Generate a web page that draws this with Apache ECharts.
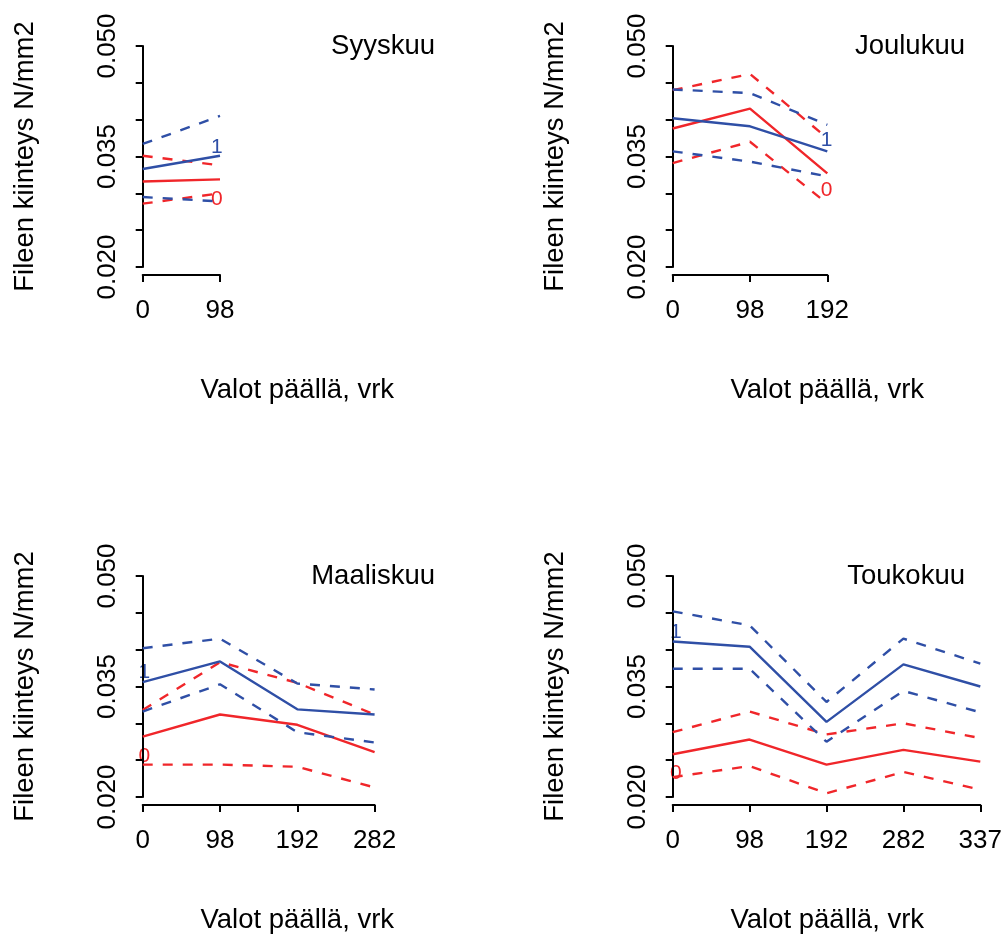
<!DOCTYPE html>
<html><head><meta charset="utf-8">
<script src="https://cdn.jsdelivr.net/npm/echarts@6/dist/echarts.min.js"></script>
<style>html,body{margin:0;padding:0;background:#fff}#c{width:1005px;height:936px}</style>
</head><body><div id="c"></div>
<script>
// x tick labels (days with lights on); points are equally spaced by index
const days = [0, 98, 192, 282, 337];
const yTickLabels = [0.020, 0.035, 0.050];
const yTitle = 'Fileen kiinteys N/mm2';
const xTitle = 'Valot päällä, vrk';

// Syyskuu
const sepRed = [0.0316, 0.0319];
const sepRedLo = [0.0286, 0.0300];
const sepRedHi = [0.0351, 0.0338];
const sepBlue = [0.0333, 0.0351];
const sepBlueLo = [0.0295, 0.0289];
const sepBlueHi = [0.0367, 0.0405];
const sepLab0 = [0.96, 0.0292];
const sepLab1 = [0.96, 0.0363];

// Joulukuu
const decRed = [0.0388, 0.0415, 0.0327];
const decRedLo = [0.0341, 0.0370, 0.0286];
const decRedHi = [0.0440, 0.0462, 0.0375];
const decBlue = [0.0402, 0.0391, 0.0357];
const decBlueLo = [0.0357, 0.0343, 0.0323];
const decBlueHi = [0.0441, 0.0436, 0.0393];
const decLab0 = [1.99, 0.0304];
const decLab1 = [1.99, 0.0372];

// Maaliskuu
const marRed = [0.0282, 0.0312, 0.0298, 0.0261];
const marRedLo = [0.0244, 0.0244, 0.0241, 0.0213];
const marRedHi = [0.0318, 0.0383, 0.0355, 0.0312];
const marBlue = [0.0356, 0.0384, 0.0319, 0.0312];
const marBlueLo = [0.0316, 0.0353, 0.0288, 0.0274];
const marBlueHi = [0.0402, 0.0415, 0.0354, 0.0346];
const marLab0 = [0.02, 0.0256];
const marLab1 = [0.02, 0.0369];

// Toukokuu
const mayRed = [0.0258, 0.0278, 0.0244, 0.0264, 0.0248];
const mayRedLo = [0.0227, 0.0242, 0.0205, 0.0234, 0.0210];
const mayRedHi = [0.0288, 0.0316, 0.0285, 0.0300, 0.0280];
const mayBlue = [0.0411, 0.0404, 0.0302, 0.0380, 0.0350];
const mayBlueLo = [0.0374, 0.0374, 0.0275, 0.0344, 0.0315];
const mayBlueHi = [0.0452, 0.0433, 0.0329, 0.0415, 0.0381];
const mayLab0 = [0.04, 0.0232];
const mayLab1 = [0.04, 0.0424];

const RED = '#f0262a', BLUE = '#2f4fa6';
const FONT = 'Liberation Sans, Arial, Helvetica, sans-serif';
const STEP = 77.3;

const panels = [
  {title: 'Syyskuu', red: [sepRed, sepRedLo, sepRedHi], blue: [sepBlue, sepBlueLo, sepBlueHi], lab0: sepLab0, lab1: sepLab1, left: 142.7, top: 46},
  {title: 'Joulukuu', red: [decRed, decRedLo, decRedHi], blue: [decBlue, decBlueLo, decBlueHi], lab0: decLab0, lab1: decLab1, left: 672.7, top: 46},
  {title: 'Maaliskuu', red: [marRed, marRedLo, marRedHi], blue: [marBlue, marBlueLo, marBlueHi], lab0: marLab0, lab1: marLab1, left: 142.7, top: 576},
  {title: 'Toukokuu', red: [mayRed, mayRedLo, mayRedHi], blue: [mayBlue, mayBlueLo, mayBlueHi], lab0: mayLab0, lab1: mayLab1, left: 672.7, top: 576}
];

const grid = [], xAxis = [], yAxis = [], series = [], graphic = [];
panels.forEach((p, i) => {
  const n = p.red[0].length;
  grid.push({left: p.left, top: p.top, width: STEP * (n - 1), height: 221});
  const axLine = {show: true, lineStyle: {color: '#000', width: 2}};
  const axTick = {show: true, length: 7, lineStyle: {color: '#000', width: 2}};
  xAxis.push({
    gridIndex: i, type: 'value', min: 0, max: n - 1, interval: 1, offset: 8,
    axisLine: axLine, axisTick: axTick, splitLine: {show: false},
    axisLabel: {color: '#000', fontSize: 26, fontFamily: FONT, margin: 23,
      formatter: v => (Number.isInteger(v) && v < days.length) ? String(days[v]) : ''}
  });
  yAxis.push({
    gridIndex: i, type: 'value', min: 0.020, max: 0.050, interval: 0.005, offset: 13.5,
    axisLine: axLine, axisTick: axTick, splitLine: {show: false},
    name: yTitle, nameLocation: 'middle', nameRotate: 90, nameGap: 90,
    nameTextStyle: {color: '#000', fontSize: 27.5, fontFamily: FONT},
    axisLabel: {color: '#000', fontSize: 26, fontFamily: FONT, rotate: 90, margin: 8,
      formatter: v => yTickLabels.some(t => Math.abs(t - v) < 1e-9) ? v.toFixed(3) : ''}
  });
  const mk = (vals, color, dashed) => ({
    type: 'line', xAxisIndex: i, yAxisIndex: i, symbol: 'none', clip: false, silent: true,
    data: vals.map((v, k) => [k, v]),
    lineStyle: {color, width: 2.4, type: dashed ? [10, 10] : 'solid'}
  });
  series.push(mk(p.red[0], RED, false), mk(p.red[1], RED, true), mk(p.red[2], RED, true));
  series.push(mk(p.blue[0], BLUE, false), mk(p.blue[1], BLUE, true), mk(p.blue[2], BLUE, true));
  graphic.push({type: 'text', x: p.left - 142.7 + 435, y: p.top + 0.5,
    style: {text: p.title, font: '27.5px ' + FONT, fill: '#000', textAlign: 'right', textVerticalAlign: 'middle'}});
  graphic.push({type: 'text', x: p.left + STEP * 2, y: p.top + 344,
    style: {text: xTitle, font: '27.5px ' + FONT, fill: '#000', textAlign: 'center', textVerticalAlign: 'middle'}});
});

const chart = echarts.init(document.getElementById('c'), null, {renderer: 'canvas'});
chart.setOption({backgroundColor: '#fff', animation: false, grid, xAxis, yAxis, series, graphic});

// group labels "0" / "1" placed through the grid's own scales
const labels = [];
panels.forEach((p, i) => {
  [[p.lab0, '0', RED], [p.lab1, '1', BLUE]].forEach(([pt, txt, color]) => {
    const px = chart.convertToPixel({gridIndex: i}, pt);
    labels.push({type: 'text', x: px[0], y: px[1], silent: true,
      style: {text: txt, font: '21px ' + FONT, fill: color, textAlign: 'center', textVerticalAlign: 'middle'}});
  });
});
chart.setOption({graphic: graphic.concat(labels)});
</script></body></html>
